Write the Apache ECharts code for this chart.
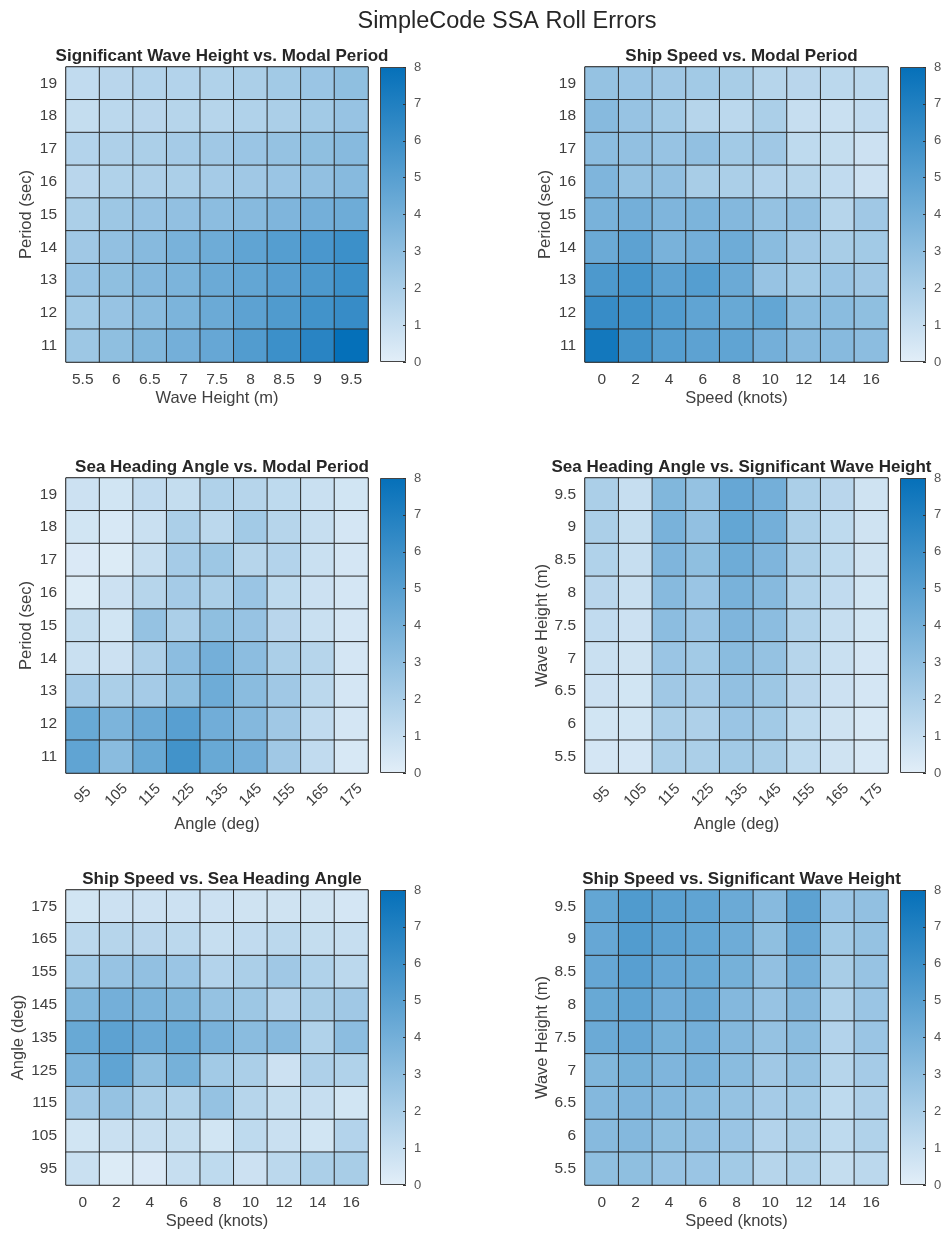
<!DOCTYPE html>
<html>
<head>
<meta charset="utf-8">
<title>SimpleCode SSA Roll Errors</title>
<script src="https://cdn.jsdelivr.net/npm/echarts@6/dist/echarts.min.js"></script>
<style>
  html, body { margin: 0; padding: 0; background: #ffffff; }
  #chart { width: 945px; height: 1237px; }
</style>
</head>
<body>
<div id="chart"></div>
<script>
// ---- axis tick labels ----
const heightTicks = ['5.5', '6', '6.5', '7', '7.5', '8', '8.5', '9', '9.5'];
const periodTicks = ['11', '12', '13', '14', '15', '16', '17', '18', '19'];
const speedTicks  = ['0', '2', '4', '6', '8', '10', '12', '14', '16'];
const angleTicks  = ['95', '105', '115', '125', '135', '145', '155', '165', '175'];
const colorbarTicks = [0, 8];

// ---- roll error grids (rows listed from the top row of each map downward) ----
// wave height (columns) vs modal period (rows 19 -> 11)
const heightVsPeriod = [
  [1.2, 1.5, 1.7, 1.7, 1.8, 2.0, 2.3, 2.6, 3.0],
  [1.1, 1.4, 1.5, 1.6, 1.6, 1.8, 2.0, 2.3, 2.7],
  [1.7, 1.9, 2.0, 2.2, 2.4, 2.6, 2.8, 3.0, 3.3],
  [1.5, 1.8, 1.9, 2.0, 2.2, 2.4, 2.6, 2.9, 3.3],
  [2.0, 2.5, 2.7, 2.9, 3.1, 3.3, 3.6, 4.0, 4.2],
  [2.4, 2.9, 3.3, 3.8, 4.2, 4.7, 5.1, 5.5, 6.0],
  [2.7, 3.0, 3.4, 3.7, 4.3, 4.6, 5.0, 5.4, 6.0],
  [2.3, 2.7, 3.2, 3.7, 4.3, 4.8, 5.3, 5.8, 6.2],
  [2.5, 3.0, 3.5, 4.0, 4.5, 5.2, 6.0, 6.7, 8.0]
];
// ship speed (columns) vs modal period (rows 19 -> 11)
const speedVsPeriod = [
  [2.8, 2.6, 2.4, 2.3, 2.1, 1.6, 1.5, 1.4, 1.4],
  [3.3, 2.7, 2.3, 1.6, 1.4, 2.0, 1.0, 0.9, 1.2],
  [3.1, 2.9, 2.7, 2.9, 2.3, 2.4, 1.3, 1.1, 0.8],
  [3.6, 2.8, 2.9, 2.1, 2.0, 1.7, 1.6, 1.2, 0.8],
  [3.8, 4.0, 3.6, 3.7, 3.4, 2.8, 2.9, 1.6, 2.4],
  [4.3, 4.8, 3.8, 4.0, 4.2, 3.2, 2.4, 2.1, 2.3],
  [5.4, 5.6, 4.8, 5.1, 4.3, 2.7, 2.3, 2.6, 2.4],
  [6.2, 5.8, 5.2, 4.7, 4.4, 4.6, 3.2, 3.2, 3.0],
  [7.5, 5.8, 5.1, 4.8, 4.7, 4.0, 3.3, 3.3, 3.1]
];
// sea heading angle (columns) vs modal period (rows 19 -> 11)
const angleVsPeriod = [
  [0.8, 0.6, 1.2, 1.1, 1.8, 1.6, 1.3, 0.9, 0.6],
  [0.6, 0.4, 0.9, 2.0, 1.4, 2.3, 1.6, 1.0, 0.5],
  [0.3, 0.2, 1.0, 2.2, 2.5, 1.6, 1.7, 0.9, 0.5],
  [0.2, 0.8, 1.6, 2.2, 2.0, 2.6, 1.3, 0.8, 0.5],
  [1.1, 0.6, 2.8, 2.0, 3.0, 2.7, 1.5, 0.9, 0.5],
  [0.9, 0.8, 1.9, 3.1, 4.0, 3.1, 2.0, 1.6, 0.5],
  [2.2, 2.0, 2.2, 3.0, 4.2, 3.2, 2.4, 1.4, 0.5],
  [4.4, 3.7, 4.3, 5.0, 4.1, 3.4, 2.4, 1.2, 0.5],
  [4.7, 3.2, 4.4, 5.8, 4.4, 4.0, 2.4, 1.2, 0.4]
];
// sea heading angle (columns) vs wave height (rows 9.5 -> 5.5)
const angleVsHeight = [
  [2.0, 1.0, 3.5, 2.8, 4.5, 4.0, 2.0, 1.5, 0.7],
  [2.0, 1.1, 3.8, 2.9, 4.6, 4.0, 2.0, 1.3, 0.7],
  [1.8, 1.0, 3.6, 3.0, 4.2, 3.6, 2.0, 1.3, 0.7],
  [1.5, 0.9, 3.3, 2.6, 3.8, 3.3, 1.8, 1.2, 0.6],
  [1.2, 0.8, 3.1, 2.6, 3.6, 3.1, 1.8, 1.0, 0.6],
  [0.9, 0.7, 2.6, 2.3, 3.2, 2.8, 1.6, 0.9, 0.5],
  [0.8, 0.6, 2.4, 2.2, 2.9, 2.5, 1.5, 0.8, 0.5],
  [0.6, 0.6, 2.0, 1.9, 2.6, 2.3, 1.3, 0.7, 0.4],
  [0.5, 0.5, 2.0, 2.0, 2.3, 2.1, 1.3, 0.7, 0.4]
];
// ship speed (columns) vs sea heading angle (rows 175 -> 95)
const speedVsAngle = [
  [0.6, 0.8, 0.8, 0.8, 0.8, 0.7, 0.7, 0.7, 0.5],
  [1.4, 1.6, 1.5, 1.4, 1.0, 1.2, 1.4, 1.1, 1.0],
  [2.3, 2.7, 2.9, 2.6, 1.7, 2.0, 2.4, 1.8, 1.4],
  [3.5, 4.0, 3.7, 3.5, 2.8, 2.5, 1.7, 2.1, 2.4],
  [4.4, 4.8, 4.3, 4.4, 3.8, 3.2, 3.3, 1.8, 3.1],
  [3.7, 4.7, 3.0, 3.9, 2.3, 2.0, 0.8, 1.9, 1.8],
  [2.4, 2.8, 2.0, 1.8, 2.8, 1.6, 1.1, 1.0, 0.6],
  [0.6, 0.9, 1.0, 1.1, 0.6, 1.3, 0.9, 0.6, 1.7],
  [0.9, 0.2, 0.3, 1.0, 1.3, 0.8, 1.4, 2.0, 2.1]
];
// ship speed (columns) vs wave height (rows 9.5 -> 5.5)
const speedVsHeight = [
  [4.6, 5.3, 4.9, 4.7, 4.3, 3.3, 4.8, 2.6, 2.9],
  [4.5, 5.2, 4.8, 4.6, 4.2, 3.0, 4.5, 2.3, 2.8],
  [4.5, 5.0, 4.5, 4.4, 3.9, 2.9, 4.0, 2.1, 2.7],
  [4.4, 4.7, 4.1, 4.3, 3.4, 2.7, 3.4, 1.8, 2.6],
  [4.3, 4.5, 3.9, 4.0, 3.4, 2.8, 3.2, 1.7, 2.6],
  [3.5, 3.9, 3.6, 3.8, 3.2, 2.4, 2.8, 1.6, 2.2],
  [3.4, 3.6, 3.4, 3.2, 2.8, 2.2, 2.3, 1.3, 1.9],
  [3.3, 3.4, 3.0, 2.9, 2.6, 1.7, 2.0, 1.3, 1.8],
  [3.0, 3.0, 2.7, 2.6, 2.3, 1.6, 1.8, 1.1, 1.4]
];

// colour scale shared by every map and colorbar
const LOW_COLOR = '#e2eef8';
const HIGH_COLOR = '#0570b9';

const TEXT = '#404040';
const FONT = 'Liberation Sans, Arial, Helvetica, sans-serif';

// panel layout: column / row geometry in pixels
const colLeft = [66, 585];
const colWidth = [302, 303];
const cbLeft = [380, 900];
const rowTop = [67, 478, 890];
const panelHeight = 295;

const panels = [
  { title: 'Significant Wave Height vs. Modal Period', col: 0, row: 0,
    x: heightTicks, y: periodTicks, z: heightVsPeriod,
    xName: 'Wave Height (m)', yName: 'Period (sec)', yGap: 31, rot: 0 },
  { title: 'Ship Speed vs. Modal Period', col: 1, row: 0,
    x: speedTicks, y: periodTicks, z: speedVsPeriod,
    xName: 'Speed (knots)', yName: 'Period (sec)', yGap: 31, rot: 0 },
  { title: 'Sea Heading Angle vs. Modal Period', col: 0, row: 1,
    x: angleTicks, y: periodTicks, z: angleVsPeriod,
    xName: 'Angle (deg)', yName: 'Period (sec)', yGap: 31, rot: 45 },
  { title: 'Sea Heading Angle vs. Significant Wave Height', col: 1, row: 1,
    x: angleTicks, y: heightTicks, z: angleVsHeight,
    xName: 'Angle (deg)', yName: 'Wave Height (m)', yGap: 32, rot: 45 },
  { title: 'Ship Speed vs. Sea Heading Angle', col: 0, row: 2,
    x: speedTicks, y: angleTicks, z: speedVsAngle,
    xName: 'Speed (knots)', yName: 'Angle (deg)', yGap: 39, rot: 0 },
  { title: 'Ship Speed vs. Significant Wave Height', col: 1, row: 2,
    x: speedTicks, y: heightTicks, z: speedVsHeight,
    xName: 'Speed (knots)', yName: 'Wave Height (m)', yGap: 32, rot: 0 }
];

// convert a top-down matrix into [xIndex, yIndex, value] triples (yIndex 0 = bottom row)
function toCells(matrix) {
  const cells = [];
  const n = matrix.length;
  matrix.forEach((row, r) => {
    row.forEach((v, c) => cells.push([c, n - 1 - r, v]));
  });
  return cells;
}

const grid = [], xAxis = [], yAxis = [], series = [];
const title = [{
  text: 'SimpleCode SSA Roll Errors',
  left: 502, top: 5, textAlign: 'center',
  textStyle: { fontFamily: FONT, fontSize: 23.5, fontWeight: 'normal', color: '#262626' }
}];

panels.forEach((p, i) => {
  const left = colLeft[p.col], width = colWidth[p.col], top = rowTop[p.row];
  title.push({
    text: p.title, left: left + width / 2, top: top - 24, textAlign: 'center',
    textStyle: { fontFamily: FONT, fontSize: 17, fontWeight: 'bold', color: '#262626' }
  });
  grid.push({ left: left, top: top, width: width, height: panelHeight,
              show: true, borderColor: '#333', borderWidth: 1 });
  xAxis.push({
    gridIndex: i, type: 'category', data: p.x,
    axisLine: { show: false }, axisTick: { show: false }, splitLine: { show: false },
    axisLabel: p.rot
      ? { rotate: p.rot, align: 'center', verticalAlign: 'middle', margin: 22,
          fontSize: 15, color: TEXT, fontFamily: FONT }
      : { margin: 10, fontSize: 15.5, color: TEXT, fontFamily: FONT },
    name: p.xName, nameLocation: 'middle', nameGap: p.rot ? 43 : 28,
    nameTextStyle: { fontSize: 16.5, color: TEXT, fontFamily: FONT }
  });
  yAxis.push({
    gridIndex: i, type: 'category', data: p.y,
    axisLine: { show: false }, axisTick: { show: false }, splitLine: { show: false },
    axisLabel: { margin: 9, fontSize: 15.5, color: TEXT, fontFamily: FONT },
    name: p.yName, nameLocation: 'middle', nameGap: p.yGap,
    nameTextStyle: { fontSize: 16.5, color: TEXT, fontFamily: FONT }
  });
  series.push({
    type: 'heatmap', xAxisIndex: i, yAxisIndex: i, data: toCells(p.z),
    itemStyle: { borderColor: '#2b2b2b', borderWidth: 1 },
    emphasis: { disabled: true }
  });
});

// colorbars: one gradient bar per panel on its own 0–8 value axis
panels.forEach((p, i) => {
  const gi = panels.length + i;
  grid.push({ left: cbLeft[p.col], top: rowTop[p.row], width: 26, height: panelHeight });
  xAxis.push({ gridIndex: gi, type: 'category', data: [''], show: false });
  yAxis.push({
    gridIndex: gi, type: 'value', min: colorbarTicks[0], max: colorbarTicks[1], interval: 1,
    position: 'right', z: 10,
    axisLine: { show: false }, splitLine: { show: false },
    axisTick: { show: true, inside: true, length: 3, lineStyle: { color: '#333' } },
    axisLabel: { margin: 8, fontSize: 13, color: '#555', fontFamily: FONT }
  });
  series.push({
    type: 'bar', xAxisIndex: gi, yAxisIndex: gi, data: [colorbarTicks[1]],
    barWidth: '100%', silent: true, z: 1,
    itemStyle: {
      borderColor: '#444', borderWidth: 1,
      color: new echarts.graphic.LinearGradient(0, 0, 0, 1, [
        { offset: 0, color: HIGH_COLOR }, { offset: 1, color: LOW_COLOR }
      ])
    }
  });
});

const chart = echarts.init(document.getElementById('chart'), null, { renderer: 'canvas' });
chart.setOption({
  backgroundColor: '#ffffff',
  animation: false,
  title: title,
  grid: grid,
  xAxis: xAxis,
  yAxis: yAxis,
  visualMap: {
    show: false, min: 0, max: 8, seriesIndex: [0, 1, 2, 3, 4, 5],
    inRange: { color: [LOW_COLOR, HIGH_COLOR] }
  },
  series: series
});
</script>
</body>
</html>
